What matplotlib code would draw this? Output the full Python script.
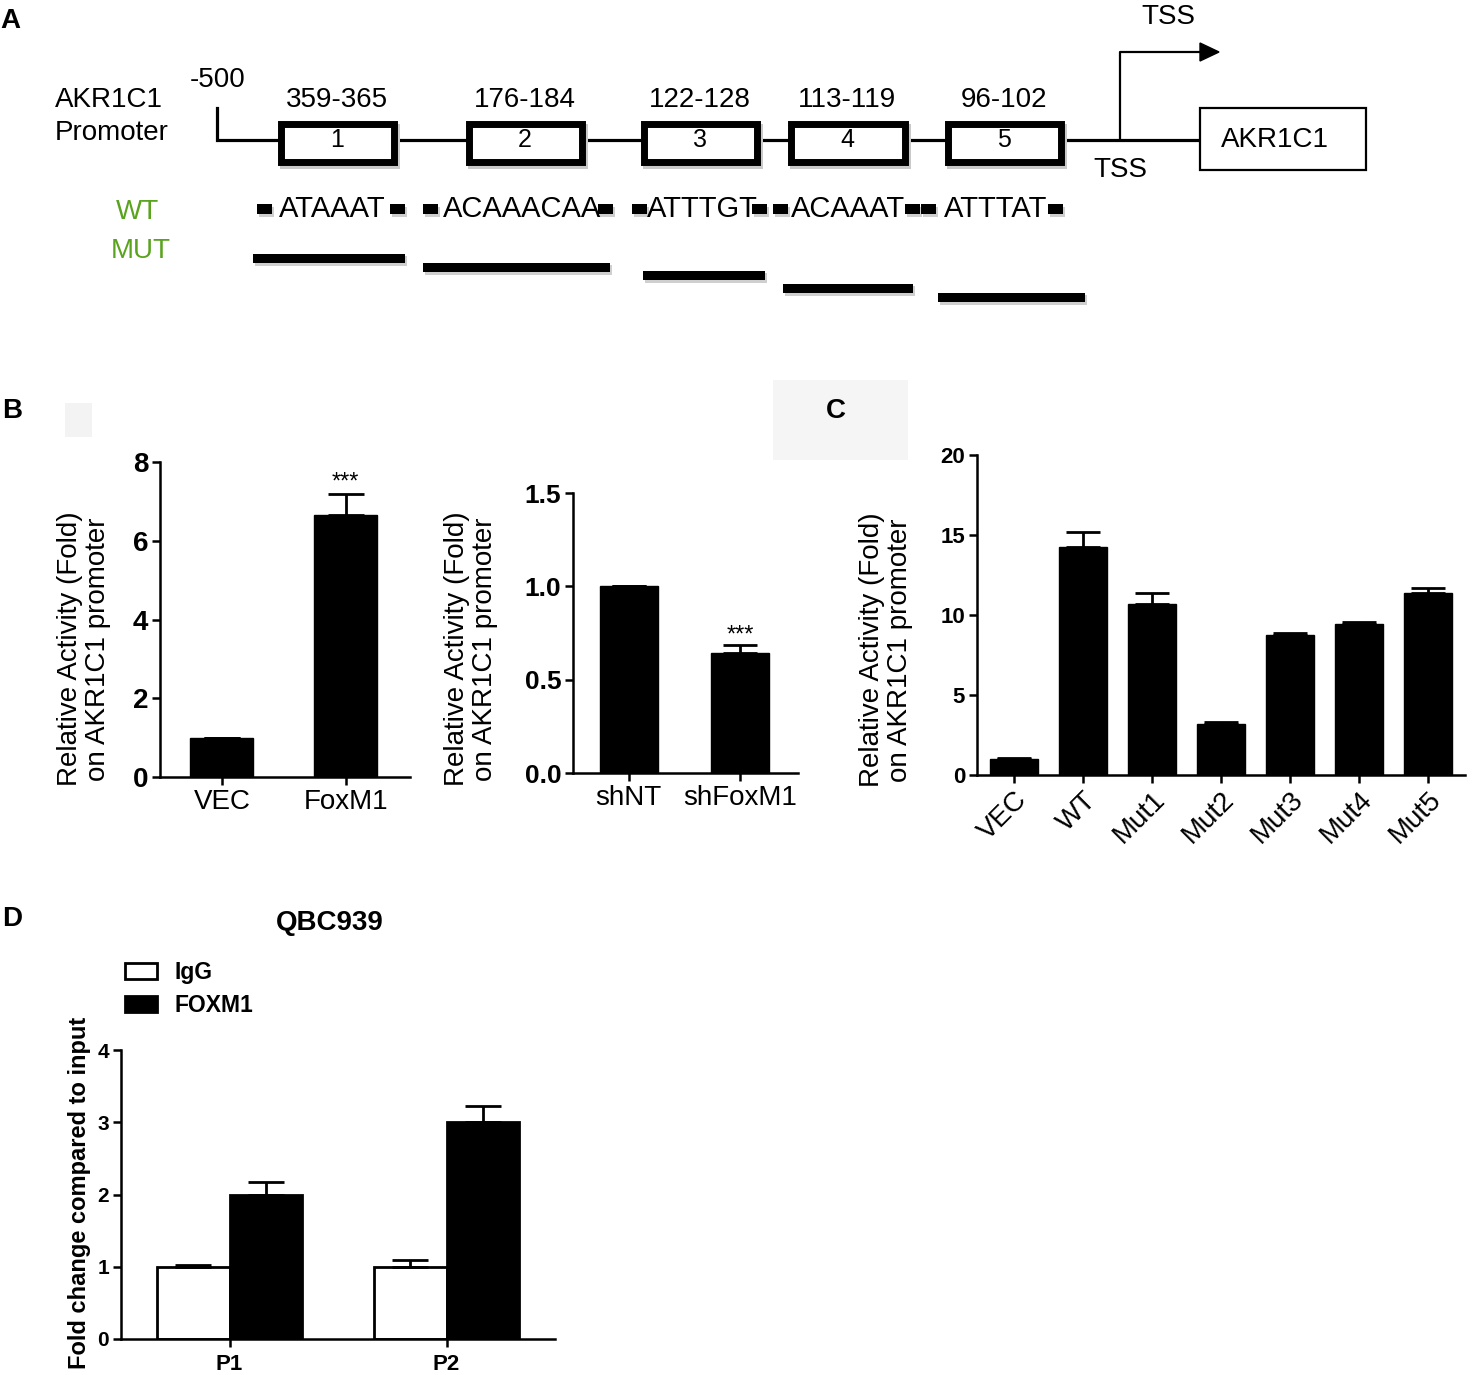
import matplotlib
matplotlib.use('Agg')
import matplotlib.pyplot as plt
from matplotlib.patches import Rectangle, Polygon

plt.rcParams['font.family'] = ['Liberation Sans', 'DejaVu Sans']

# ---- data ----
# panel A: promoter map
site_ranges = ['359-365', '176-184', '122-128', '113-119', '96-102']
site_numbers = ['1', '2', '3', '4', '5']
wt_seqs = ['ATAAAT', 'ACAAACAA', 'ATTTGT', 'ACAAAT', 'ATTTAT']

# panel B
b1_labels = ['VEC', 'FoxM1']
b1_vals = [1.0, 6.65]
b1_err = [0.0, 0.55]
b2_labels = ['shNT', 'shFoxM1']
b2_vals = [1.0, 0.645]
b2_err = [0.0, 0.04]

# panel C
c_labels = ['VEC', 'WT', 'Mut1', 'Mut2', 'Mut3', 'Mut4', 'Mut5']
c_vals = [1.0, 14.25, 10.7, 3.2, 8.75, 9.45, 11.4]
c_err = [0.05, 0.95, 0.65, 0.1, 0.12, 0.12, 0.3]

# panel D
d_groups = ['P1', 'P2']
d_igg = [1.0, 1.0]
d_igg_err = [0.03, 0.1]
d_foxm1 = [2.0, 3.0]
d_foxm1_err = [0.17, 0.23]

# ---- layout (pixels) ----
W, H = 1480, 1375
box_x = [(277, 397), (465, 585), (640, 760), (787, 908), (944, 1064)]
seq_x = [279, 443, 647, 791, 944]
wt_marks = [257, 390, 423, 598, 632, 752, 773, 905, 921, 1048]
mut_bars = [(253, 405, 258), (423, 610, 267), (643, 765, 275),
            (783, 913, 288), (938, 1085, 297)]
GREEN = '#5aa31e'

fig = plt.figure(figsize=(W / 100, H / 100), dpi=100)


def add_px_axes(x0, y0, x1, y1):
    ax = fig.add_axes([x0 / W, 1 - y1 / H, (x1 - x0) / W, (y1 - y0) / H])
    ax.patch.set_alpha(0)
    return ax


ov = fig.add_axes([0, 0, 1, 1])
ov.set_xlim(0, W)
ov.set_ylim(H, 0)
ov.axis('off')

# faint background patches
ov.add_patch(Rectangle((65, 403), 27, 34, fc='#f3f3f3', ec='none', zorder=0))
ov.add_patch(Rectangle((773, 380), 135, 80, fc='#f5f5f5', ec='none', zorder=0))

# panel letters
for letter, x, y in [('A', 0, 28), ('B', 2, 418), ('C', 826, 418), ('D', 2, 926)]:
    ov.text(x, y, letter, fontsize=20, fontweight='bold', va='baseline', ha='left')

# ---- panel A ----
ov.text(55, 107, 'AKR1C1', fontsize=20, va='baseline')
ov.text(55, 140, 'Promoter', fontsize=20, va='baseline')
ov.text(190, 87, '-500', fontsize=20, va='baseline')
ov.plot([217, 217, 1200], [108, 140, 140], color='black', lw=2.3,
        solid_joinstyle='miter', zorder=1)

for (x0, x1), rng, num in zip(box_x, site_ranges, site_numbers):
    cx = (x0 + x1) / 2
    ov.add_patch(Rectangle((x0 + 3, 124), x1 - x0, 45, fc='#c9c9c9', ec='none', zorder=2))
    ov.add_patch(Rectangle((x0 + 3.5, 123.5), x1 - x0 - 7, 38, fc='white',
                           ec='black', lw=5, zorder=3))
    ov.text(cx, 147, num, fontsize=18, ha='center', va='baseline', zorder=4)
    ov.text(cx, 107, rng, fontsize=20, ha='center', va='baseline')

# TSS arrow
ov.plot([1120, 1120, 1202], [140, 52, 52], color='black', lw=1.6, zorder=1)
ov.add_patch(Polygon([(1200, 43), (1219, 52), (1200, 61)], closed=True,
                     fc='black', ec='black', zorder=2))
ov.text(1168, 24, 'TSS', fontsize=20, ha='center', va='baseline')
ov.text(1120, 177, 'TSS', fontsize=20, ha='center', va='baseline')
ov.add_patch(Rectangle((1200, 108), 166, 62, fc='white', ec='black', lw=1.6, zorder=3))
ov.text(1275, 147, 'AKR1C1', fontsize=20, ha='center', va='baseline', zorder=4)

# WT / MUT rows
ov.text(138, 219, 'WT', fontsize=20, color=GREEN, ha='center', va='baseline')
ov.text(141, 258, 'MUT', fontsize=20, color=GREEN, ha='center', va='baseline')
for x in wt_marks:
    ov.add_patch(Rectangle((x + 2, 207), 15, 10, fc='#cfcfcf', ec='none', zorder=2))
    ov.add_patch(Rectangle((x, 204), 15, 10, fc='black', ec='none', zorder=3))
for x, seq in zip(seq_x, wt_seqs):
    ov.text(x, 217, seq, fontsize=21, ha='left', va='baseline', zorder=4)
for x0, x1, y in mut_bars:
    ov.add_patch(Rectangle((x0 + 2, y - 2), x1 - x0, 10, fc='#cfcfcf', ec='none', zorder=2))
    ov.add_patch(Rectangle((x0, y - 4.5), x1 - x0, 9, fc='black', ec='none', zorder=3))


def style(ax, top, ticks, tick_fs, spine_w=1.8):
    for s in ['top', 'right']:
        ax.spines[s].set_visible(False)
    for s in ['left', 'bottom']:
        ax.spines[s].set_linewidth(spine_w)
    ax.set_ylim(0, top)
    ax.set_yticks(ticks)
    ax.tick_params(axis='both', width=spine_w, length=5.5, direction='out', pad=3)
    for t in ax.get_yticklabels():
        t.set_fontweight('bold')
        t.set_fontsize(tick_fs)


ylab = 'Relative Activity (Fold)\non AKR1C1 promoter'

# ---- panel B left ----
ax = add_px_axes(160, 462, 410, 777)
xs = range(len(b1_vals))
ax.bar(xs, b1_vals, width=0.51, color='black', edgecolor='black', zorder=2)
ax.errorbar(xs, b1_vals, yerr=[[0] * len(b1_err), b1_err], fmt='none', ecolor='black',
            elinewidth=2, capsize=13, capthick=2, zorder=3)
ax.set_xlim(-0.5, 1.52)
style(ax, 8, [0, 2, 4, 6, 8], 20)
ax.set_xticks(list(xs))
ax.set_xticklabels(b1_labels, fontsize=20)
ax.annotate('***', xy=(1, b1_vals[1] + b1_err[1]), xytext=(0, 0), textcoords='offset points',
            ha='center', va='bottom', fontsize=17)
ov.text(84, 649, ylab, rotation=90, fontsize=20, ha='center', va='center',
        multialignment='center', linespacing=1.1)

# ---- panel B right ----
ax = add_px_axes(573, 493, 798, 773)
xs = range(len(b2_vals))
ax.bar(xs, b2_vals, width=0.52, color='black', edgecolor='black', zorder=2)
ax.errorbar(xs, b2_vals, yerr=[[0] * len(b2_err), b2_err], fmt='none', ecolor='black',
            elinewidth=2, capsize=12, capthick=2, zorder=3)
ax.set_xlim(-0.5, 1.516)
style(ax, 1.5, [0.0, 0.5, 1.0, 1.5], 20)
ax.set_yticklabels(['0.0', '0.5', '1.0', '1.5'], fontweight='bold', fontsize=19)
ax.set_xticks(list(xs))
ax.set_xticklabels(b2_labels, fontsize=20)
ax.annotate('***', xy=(1, b2_vals[1] + b2_err[1]), xytext=(0, -1), textcoords='offset points',
            ha='center', va='bottom', fontsize=17)
ov.text(471, 649, ylab, rotation=90, fontsize=20, ha='center', va='center',
        multialignment='center', linespacing=1.1)

# ---- panel C ----
ax = add_px_axes(977, 455, 1465, 775)
xs = range(len(c_vals))
ax.bar(xs, c_vals, width=0.70, color='black', edgecolor='black', zorder=2)
ax.errorbar(xs, c_vals, yerr=[[0] * len(c_err), c_err], fmt='none', ecolor='black',
            elinewidth=2, capsize=12, capthick=2, zorder=3)
ax.set_xlim(-0.54, 6.54)
style(ax, 20, [0, 5, 10, 15, 20], 16)
ax.set_xticks(list(xs))
ax.set_xticklabels(c_labels, fontsize=20, rotation=45, ha='right', rotation_mode='anchor')
ov.text(886, 650, ylab, rotation=90, fontsize=20, ha='center', va='center',
        multialignment='center', linespacing=1.1)

# ---- panel D ----
ax = add_px_axes(121, 1050, 555, 1339)
xs = list(range(len(d_groups)))
bw = 0.334
xi = [x - bw / 2 for x in xs]
xf = [x + bw / 2 for x in xs]
h_igg = ax.bar(xi, d_igg, width=bw, color='white', edgecolor='black', lw=2, zorder=2)
h_fox = ax.bar(xf, d_foxm1, width=bw, color='black', edgecolor='black', lw=2, zorder=2)
ax.errorbar(xi, d_igg, yerr=[[0] * 2, d_igg_err], fmt='none', ecolor='black',
            elinewidth=2, capsize=13, capthick=2, zorder=3)
ax.errorbar(xf, d_foxm1, yerr=[[0] * 2, d_foxm1_err], fmt='none', ecolor='black',
            elinewidth=2, capsize=13, capthick=2, zorder=3)
ax.set_xlim(-0.5, 1.5)
style(ax, 4, [0, 1, 2, 3, 4], 15)
ax.set_xticks(xs)
ax.set_xticklabels(d_groups, fontsize=16, fontweight='bold')
ax.tick_params(axis='x', pad=5)
ax.legend([h_igg, h_fox], ['IgG', 'FOXM1'], loc='upper left',
          bbox_to_anchor=(125 / W, 1 - 961 / H), bbox_transform=fig.transFigure,
          frameon=False, prop={'weight': 'bold', 'size': 16.5}, handlelength=1.4,
          handleheight=0.7, handletextpad=0.75, labelspacing=0.45,
          borderpad=0, borderaxespad=0)
ov.text(330, 923, 'QBC939', fontsize=20, fontweight='bold', ha='center', va='center')
ov.text(80, 1193, 'Fold change compared to input', rotation=90, fontsize=17,
        fontweight='bold', ha='center', va='center')

fig.savefig('out.png', dpi=100)
